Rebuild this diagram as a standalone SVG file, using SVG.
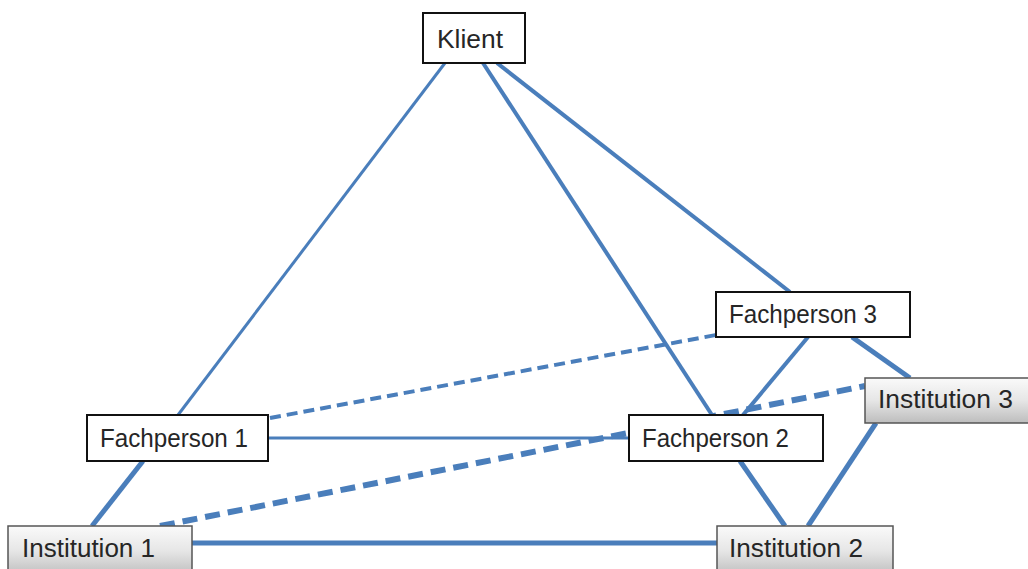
<svg xmlns="http://www.w3.org/2000/svg" width="1028" height="569" viewBox="0 0 1028 569">
<defs>
<linearGradient id="gray" x1="0" y1="0" x2="0" y2="1">
<stop offset="0" stop-color="#fafafa"/>
<stop offset="0.5" stop-color="#e6e6e6"/>
<stop offset="1" stop-color="#bdbdbd"/>
</linearGradient>
<style>
.c{stroke:#4a7ebb;fill:none;stroke-linecap:butt}
.t1{stroke-width:3}
.t2{stroke-width:4}
.t3{stroke-width:5}
.d1{stroke-width:4;stroke-dasharray:11 6}
.d2{stroke-width:6;stroke-dasharray:15 8}
.box{fill:#fff;stroke:#111;stroke-width:2}
.inst{fill:url(#gray);stroke:#555;stroke-width:1.5}
text{font-family:"Liberation Sans",Arial,sans-serif;font-size:25px;fill:#262626}
</style>
</defs>
<rect width="1028" height="569" fill="#fff"/>
<g id="connectors">
<line class="c t1" x1="445" y1="63" x2="178" y2="415"/>
<line class="c t2" x1="483" y1="63" x2="712" y2="415"/>
<line class="c t2" x1="497" y1="63" x2="790" y2="292"/>
<line class="c t1" x1="268" y1="438" x2="629" y2="438"/>
<line class="c d1" x1="270" y1="418" x2="716" y2="335"/>
<line class="c d2" x1="160" y1="526" x2="865" y2="386"/>
<line class="c t3" x1="192" y1="543" x2="717" y2="543"/>
<line class="c t3" x1="143" y1="461" x2="92" y2="526"/>
<line class="c t2" x1="808" y1="337" x2="743" y2="415"/>
<line class="c t3" x1="852" y1="337" x2="910" y2="378"/>
<line class="c t3" x1="740" y1="461" x2="785" y2="526"/>
<line class="c t3" x1="876" y1="423" x2="808" y2="526"/>
</g>
<g id="klient">
<rect class="box" x="423" y="13" width="102" height="50"/>
<text x="437" y="48" textLength="66" lengthAdjust="spacingAndGlyphs">Klient</text>
</g>
<g id="fachperson1">
<rect class="box" x="87" y="415" width="181" height="46"/>
<text x="100" y="447" textLength="148" lengthAdjust="spacingAndGlyphs">Fachperson 1</text>
</g>
<g id="fachperson2">
<rect class="box" x="629" y="415" width="194" height="46"/>
<text x="642" y="447" textLength="147" lengthAdjust="spacingAndGlyphs">Fachperson 2</text>
</g>
<g id="fachperson3">
<rect class="box" x="716" y="292" width="194" height="45"/>
<text x="729" y="323" textLength="148" lengthAdjust="spacingAndGlyphs">Fachperson 3</text>
</g>
<g id="institution1">
<rect class="inst" x="8" y="526" width="184" height="50"/>
<text x="22" y="557" textLength="133" lengthAdjust="spacingAndGlyphs">Institution 1</text>
</g>
<g id="institution2">
<rect class="inst" x="717" y="526" width="176" height="50"/>
<text x="729" y="557" textLength="134" lengthAdjust="spacingAndGlyphs">Institution 2</text>
</g>
<g id="institution3">
<rect class="inst" x="865" y="378" width="175" height="45"/>
<text x="878" y="408" textLength="135" lengthAdjust="spacingAndGlyphs">Institution 3</text>
</g>
</svg>
